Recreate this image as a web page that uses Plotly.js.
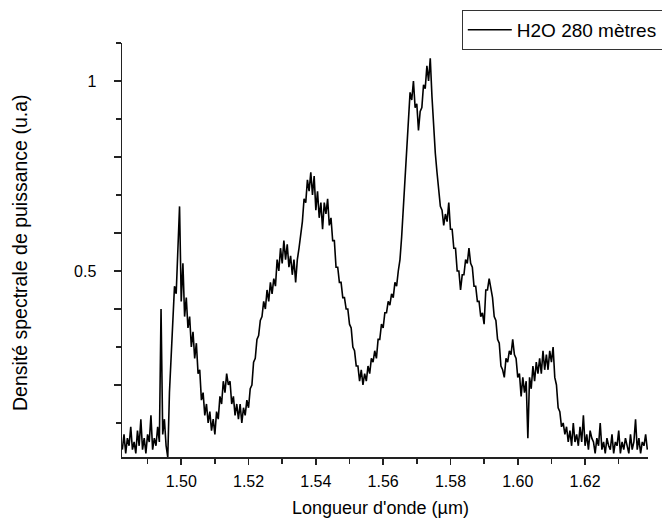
<!DOCTYPE html>
<html>
<head>
<meta charset="utf-8">
<script src="https://cdn.plot.ly/plotly-3.0.1.min.js"></script>
<style>html,body{margin:0;padding:0;background:#fff;}#chart{width:662px;height:520px;}</style>
</head>
<body>
<div id="chart"></div>
<script>
const seriesName = "H2O 280 mètres";
const xTitle = "Longueur d'onde (µm)";
const yTitle = "Densité spectrale de puissance (u.a)";
const xTickVals = [1.50, 1.52, 1.54, 1.56, 1.58, 1.60, 1.62];
const xTickText = ["1.50", "1.52", "1.54", "1.56", "1.58", "1.60", "1.62"];
const yTickVals = [0.2, 0.4, 0.5, 0.6, 0.8, 1.0];
const yTickText = ["", "", "0.5", "", "", "1"];

const wavelength = [
1.4825,1.4830,1.4835,1.4840,1.4845,1.4850,1.4855,1.4860,1.4865,1.4870,
1.4875,1.4880,1.4885,1.4890,1.4895,1.4900,1.4905,1.4910,1.4915,1.4920,
1.4925,1.4930,1.4935,1.4940,1.4945,1.4950,1.4955,1.4960,1.4965,1.4970,
1.4975,1.4980,1.4985,1.4990,1.4995,1.5000,1.5005,1.5010,1.5015,1.5020,
1.5025,1.5030,1.5035,1.5040,1.5045,1.5050,1.5055,1.5060,1.5065,1.5070,
1.5075,1.5080,1.5085,1.5090,1.5095,1.5100,1.5105,1.5110,1.5115,1.5120,
1.5125,1.5130,1.5135,1.5140,1.5145,1.5150,1.5155,1.5160,1.5165,1.5170,
1.5175,1.5180,1.5185,1.5190,1.5195,1.5200,1.5205,1.5210,1.5215,1.5220,
1.5225,1.5230,1.5235,1.5240,1.5245,1.5250,1.5255,1.5260,1.5265,1.5270,
1.5275,1.5280,1.5285,1.5290,1.5295,1.5300,1.5305,1.5310,1.5315,1.5320,
1.5325,1.5330,1.5335,1.5340,1.5345,1.5350,1.5355,1.5360,1.5365,1.5370,
1.5375,1.5380,1.5385,1.5390,1.5395,1.5400,1.5405,1.5410,1.5415,1.5420,
1.5425,1.5430,1.5435,1.5440,1.5445,1.5450,1.5455,1.5460,1.5465,1.5470,
1.5475,1.5480,1.5485,1.5490,1.5495,1.5500,1.5505,1.5510,1.5515,1.5520,
1.5525,1.5530,1.5535,1.5540,1.5545,1.5550,1.5555,1.5560,1.5565,1.5570,
1.5575,1.5580,1.5585,1.5590,1.5595,1.5600,1.5605,1.5610,1.5615,1.5620,
1.5625,1.5630,1.5635,1.5640,1.5645,1.5650,1.5655,1.5660,1.5665,1.5670,
1.5675,1.5680,1.5685,1.5690,1.5695,1.5700,1.5705,1.5710,1.5715,1.5720,
1.5725,1.5730,1.5735,1.5740,1.5745,1.5750,1.5755,1.5760,1.5765,1.5770,
1.5775,1.5780,1.5785,1.5790,1.5795,1.5800,1.5805,1.5810,1.5815,1.5820,
1.5825,1.5830,1.5835,1.5840,1.5845,1.5850,1.5855,1.5860,1.5865,1.5870,
1.5875,1.5880,1.5885,1.5890,1.5895,1.5900,1.5905,1.5910,1.5915,1.5920,
1.5925,1.5930,1.5935,1.5940,1.5945,1.5950,1.5955,1.5960,1.5965,1.5970,
1.5975,1.5980,1.5985,1.5990,1.5995,1.6000,1.6005,1.6010,1.6015,1.6020,
1.6025,1.6030,1.6035,1.6040,1.6045,1.6050,1.6055,1.6060,1.6065,1.6070,
1.6075,1.6080,1.6085,1.6090,1.6095,1.6100,1.6105,1.6110,1.6115,1.6120,
1.6125,1.6130,1.6135,1.6140,1.6145,1.6150,1.6155,1.6160,1.6165,1.6170,
1.6175,1.6180,1.6185,1.6190,1.6195,1.6200,1.6205,1.6210,1.6215,1.6220,
1.6225,1.6230,1.6235,1.6240,1.6245,1.6250,1.6255,1.6260,1.6265,1.6270,
1.6275,1.6280,1.6285,1.6290,1.6295,1.6300,1.6305,1.6310,1.6315,1.6320,
1.6325,1.6330,1.6335,1.6340,1.6345,1.6350,1.6355,1.6360,1.6365,1.6370,
1.6375,1.6380,1.6385
];

const density = [
0.03,0.07,0.02,0.06,0.04,0.09,0.03,0.05,0.02,0.08,
0.04,0.11,0.03,0.06,0.02,0.07,0.05,0.12,0.03,0.06,
0.04,0.09,0.05,0.40,0.07,0.11,0.04,0.01,0.18,0.28,
0.37,0.46,0.44,0.55,0.67,0.42,0.52,0.38,0.43,0.35,
0.38,0.30,0.34,0.27,0.31,0.23,0.24,0.16,0.18,0.12,
0.15,0.10,0.13,0.08,0.11,0.07,0.13,0.11,0.17,0.15,
0.21,0.18,0.23,0.20,0.21,0.15,0.17,0.12,0.15,0.11,
0.15,0.10,0.14,0.12,0.16,0.14,0.19,0.20,0.26,0.27,
0.32,0.33,0.37,0.38,0.42,0.40,0.45,0.42,0.47,0.44,
0.48,0.46,0.53,0.50,0.56,0.52,0.58,0.53,0.57,0.51,
0.54,0.49,0.53,0.47,0.53,0.56,0.60,0.63,0.69,0.68,
0.74,0.71,0.76,0.70,0.75,0.66,0.71,0.64,0.68,0.61,
0.68,0.65,0.69,0.62,0.64,0.58,0.58,0.51,0.51,0.47,
0.47,0.43,0.43,0.40,0.40,0.36,0.35,0.30,0.29,0.25,
0.25,0.21,0.24,0.20,0.23,0.21,0.25,0.23,0.27,0.26,
0.29,0.27,0.32,0.32,0.36,0.35,0.39,0.39,0.42,0.41,
0.44,0.43,0.47,0.46,0.50,0.53,0.59,0.66,0.74,0.81,
0.89,0.97,0.95,1.00,0.93,0.94,0.87,0.92,0.93,0.99,
0.98,1.04,1.00,1.06,0.96,0.88,0.81,0.76,0.71,0.67,
0.66,0.62,0.65,0.63,0.68,0.61,0.61,0.56,0.56,0.50,
0.50,0.45,0.49,0.49,0.53,0.52,0.56,0.52,0.51,0.46,
0.46,0.42,0.42,0.38,0.39,0.36,0.45,0.45,0.48,0.45,
0.43,0.38,0.37,0.32,0.31,0.25,0.24,0.22,0.27,0.26,
0.29,0.28,0.32,0.28,0.27,0.22,0.23,0.17,0.22,0.18,
0.21,0.06,0.22,0.19,0.25,0.21,0.26,0.23,0.27,0.23,
0.29,0.24,0.28,0.24,0.29,0.26,0.30,0.22,0.20,0.14,
0.13,0.09,0.10,0.07,0.09,0.05,0.08,0.04,0.10,0.05,
0.07,0.04,0.09,0.05,0.12,0.04,0.07,0.03,0.08,0.06,
0.05,0.02,0.06,0.04,0.10,0.03,0.05,0.02,0.06,0.04,
0.03,0.07,0.02,0.05,0.04,0.08,0.02,0.05,0.03,0.06,
0.04,0.02,0.07,0.03,0.05,0.11,0.03,0.06,0.02,0.05,
0.04,0.07,0.03
];

const FONT = "Arial, 'Liberation Sans', sans-serif";

const trace = {
  x: wavelength,
  y: density,
  type: "scatter",
  mode: "lines",
  name: seriesName,
  line: {color: "#000000", width: 1.6}
};

const layout = {
  width: 662,
  height: 520,
  margin: {l: 122, r: 14, t: 43, b: 63, autoexpand: false},
  paper_bgcolor: "#ffffff",
  plot_bgcolor: "#ffffff",
  font: {family: FONT, size: 16, color: "#000000"},
  showlegend: true,
  legend: {
    x: 0.646, xanchor: "left",
    y: 1.08, yanchor: "top",
    bordercolor: "#333333", borderwidth: 1,
    bgcolor: "#ffffff",
    font: {family: FONT, size: 19, color: "#000000"},
    itemwidth: 44,
    tracegroupgap: 0
  },
  xaxis: {
    range: [1.4824, 1.6387],
    tickmode: "array",
    tickvals: xTickVals,
    ticktext: xTickText,
    ticks: "outside", ticklen: 6, tickwidth: 1.5, tickcolor: "#222222",
    minor: {ticks: "outside", dtick: 0.01, tick0: 1.5, ticklen: 5, tickwidth: 1.5, tickcolor: "#222222"},
    showline: true, linecolor: "#222222", linewidth: 1.5,
    showgrid: false, zeroline: false,
    automargin: false,
    ticklabelstandoff: 3,
    tickfont: {family: FONT, size: 16, color: "#000000"}
  },
  yaxis: {
    range: [0.0105, 1.1],
    tickmode: "array",
    tickvals: yTickVals,
    ticktext: yTickText,
    ticks: "outside", ticklen: 7, tickwidth: 1.5, tickcolor: "#222222",
    minor: {ticks: "outside", dtick: 0.1, tick0: 0, ticklen: 5, tickwidth: 1.5, tickcolor: "#222222"},
    showline: true, linecolor: "#222222", linewidth: 1.5,
    showgrid: false, zeroline: false,
    automargin: false,
    ticklabelstandoff: 14,
    tickfont: {family: FONT, size: 16, color: "#000000"}
  },
  annotations: [
    {text: xTitle, xref: "paper", yref: "paper", x: 0.4905, y: -0.123,
     xanchor: "center", yanchor: "middle", showarrow: false,
     font: {family: FONT, size: 18, color: "#000000"}},
    {text: yTitle, xref: "paper", yref: "paper", x: -0.194, y: 0.495,
     xanchor: "center", yanchor: "middle", showarrow: false, textangle: -90,
     font: {family: FONT, size: 19.5, color: "#000000"}}
  ]
};

Plotly.newPlot("chart", [trace], layout, {displayModeBar: false, staticPlot: true});
</script>
</body>
</html>
